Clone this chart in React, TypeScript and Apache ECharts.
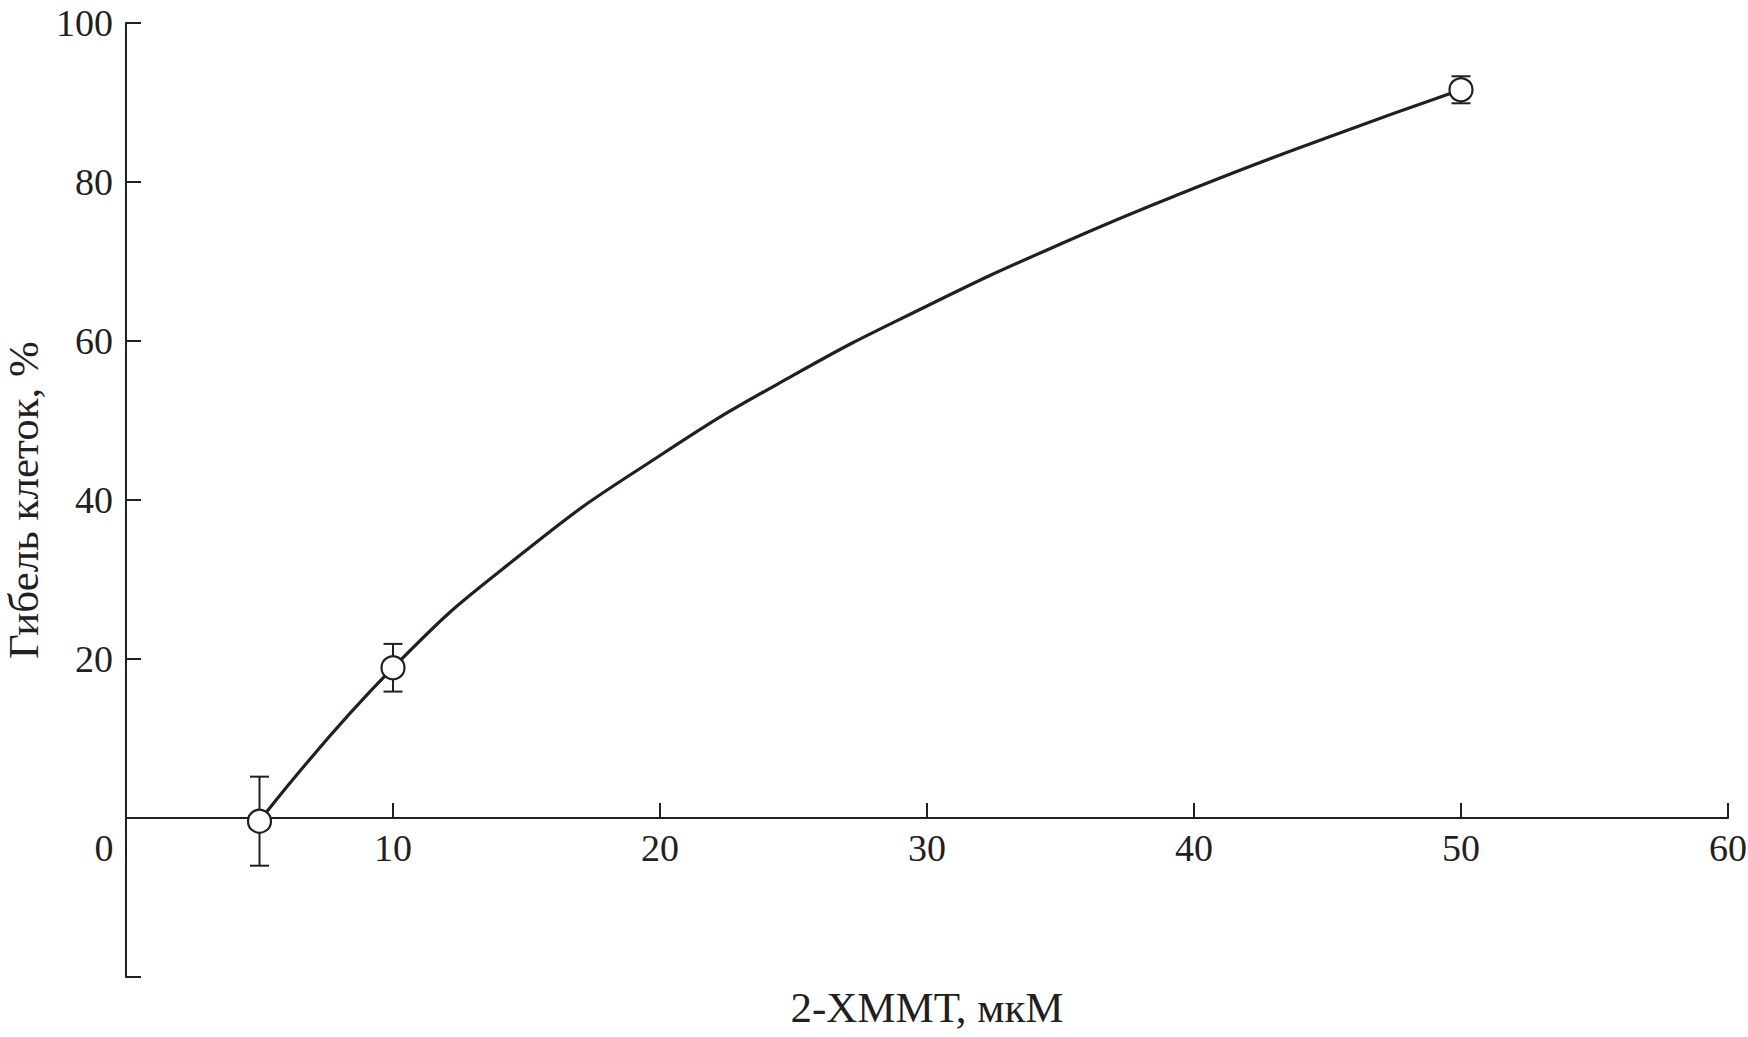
import React, { useEffect, useRef } from "react";
import * as echarts from "echarts";

// Measured points (mean ± error)
const concentrations = [5, 10, 50];
const deathMean = [-0.4, 18.9, 91.6];
const deathErr = [5.6, 3.0, 1.7];

// Fitted curve
const curveX = [5, 10, 15, 20, 25, 30, 35, 40, 45, 50];
const curveY = [-0.4, 18.9, 33.7, 45.6, 55.7, 64.4, 72.2, 79.2, 85.6, 91.6];

const xTicks = [0, 10, 20, 30, 40, 50, 60];
const yTicks = [-20, 0, 20, 40, 60, 80, 100];

const xName = "2-ХММТ, мкМ";
const yName = "Гибель клеток, %";

const INK = "#231f20";
const FONT = "'Liberation Serif', 'DejaVu Serif', serif";

export default function App() {
  const ref = useRef<HTMLDivElement>(null);

  useEffect(() => {
    if (!ref.current) return;
    const chart = echarts.init(ref.current, null, { renderer: "svg" });

    const points = concentrations.map((c, i) => [c, deathMean[i]]);
    const bars = concentrations.map((c, i) => [c, deathMean[i] - deathErr[i], deathMean[i] + deathErr[i]]);
    const curve = curveX.map((x, i) => [x, curveY[i]]);

    const top = 23;
    const bottom = 60;
    const plotH = 1037 - top - bottom;
    const zeroOffset = -plotH * (0 - yTicks[0]) / (yTicks[yTicks.length - 1] - yTicks[0]);

    chart.setOption({
      animation: false,
      backgroundColor: "#ffffff",
      grid: { left: 126, right: 20, top, bottom, containLabel: false, outerBoundsMode: "none" },
      xAxis: {
        type: "value",
        min: xTicks[0],
        max: xTicks[xTicks.length - 1],
        interval: 10,
        position: "bottom",
        offset: zeroOffset,
        name: xName,
        nameLocation: "middle",
        nameGap: 168,
        nameTextStyle: { fontFamily: FONT, fontSize: 43, color: INK },
        axisLine: { onZero: false, lineStyle: { color: INK, width: 2 } },
        axisTick: { inside: true, length: 15, lineStyle: { color: INK, width: 2 } },
        axisLabel: {
          margin: 11,
          fontFamily: FONT,
          fontSize: 38,
          color: INK,
          formatter: (v: number) => (v === 0 ? "{z|0}" : String(v)),
          rich: { z: { fontFamily: FONT, fontSize: 38, color: INK, padding: [0, 44, 0, 0] } },
        },
        splitLine: { show: false },
      },
      yAxis: {
        type: "value",
        min: yTicks[0],
        max: yTicks[yTicks.length - 1],
        interval: 20,
        name: yName,
        nameLocation: "middle",
        nameGap: 80,
        nameTextStyle: { fontFamily: FONT, fontSize: 43, color: INK },
        axisLine: { show: true, onZero: false, lineStyle: { color: INK, width: 2 } },
        axisTick: { show: true, inside: true, length: 15, lineStyle: { color: INK, width: 2 } },
        axisLabel: {
          margin: 13,
          fontFamily: FONT,
          fontSize: 38,
          color: INK,
          formatter: (v: number) => (v <= 0 ? "" : String(v)),
        },
        splitLine: { show: false },
      },
      series: [
        {
          type: "line",
          data: curve,
          smooth: 0.5,
          showSymbol: false,
          symbol: "none",
          lineStyle: { color: INK, width: 3.2 },
          z: 2,
        },
        {
          type: "custom",
          data: bars,
          z: 3,
          renderItem: (params: any, api: any) => {
            const x = api.value(0);
            const lo = api.coord([x, api.value(1)]);
            const hi = api.coord([x, api.value(2)]);
            const half = 9.5;
            const style = { stroke: INK, lineWidth: 2 };
            return {
              type: "group",
              children: [
                { type: "line", shape: { x1: lo[0], y1: lo[1], x2: hi[0], y2: hi[1] }, style },
                { type: "line", shape: { x1: hi[0] - half, y1: hi[1], x2: hi[0] + half, y2: hi[1] }, style },
                { type: "line", shape: { x1: lo[0] - half, y1: lo[1], x2: lo[0] + half, y2: lo[1] }, style },
              ],
            };
          },
        },
        {
          type: "scatter",
          data: points,
          symbol: "circle",
          symbolSize: 23,
          itemStyle: { color: "#ffffff", borderColor: INK, borderWidth: 2.2, opacity: 1 },
          z: 5,
        },
      ],
    });

    return () => chart.dispose();
  }, []);

  return (
    <div
      ref={ref}
      style={{ position: "fixed", left: 0, top: 0, width: 1748, height: 1037, background: "#fff" }}
    />
  );
}
